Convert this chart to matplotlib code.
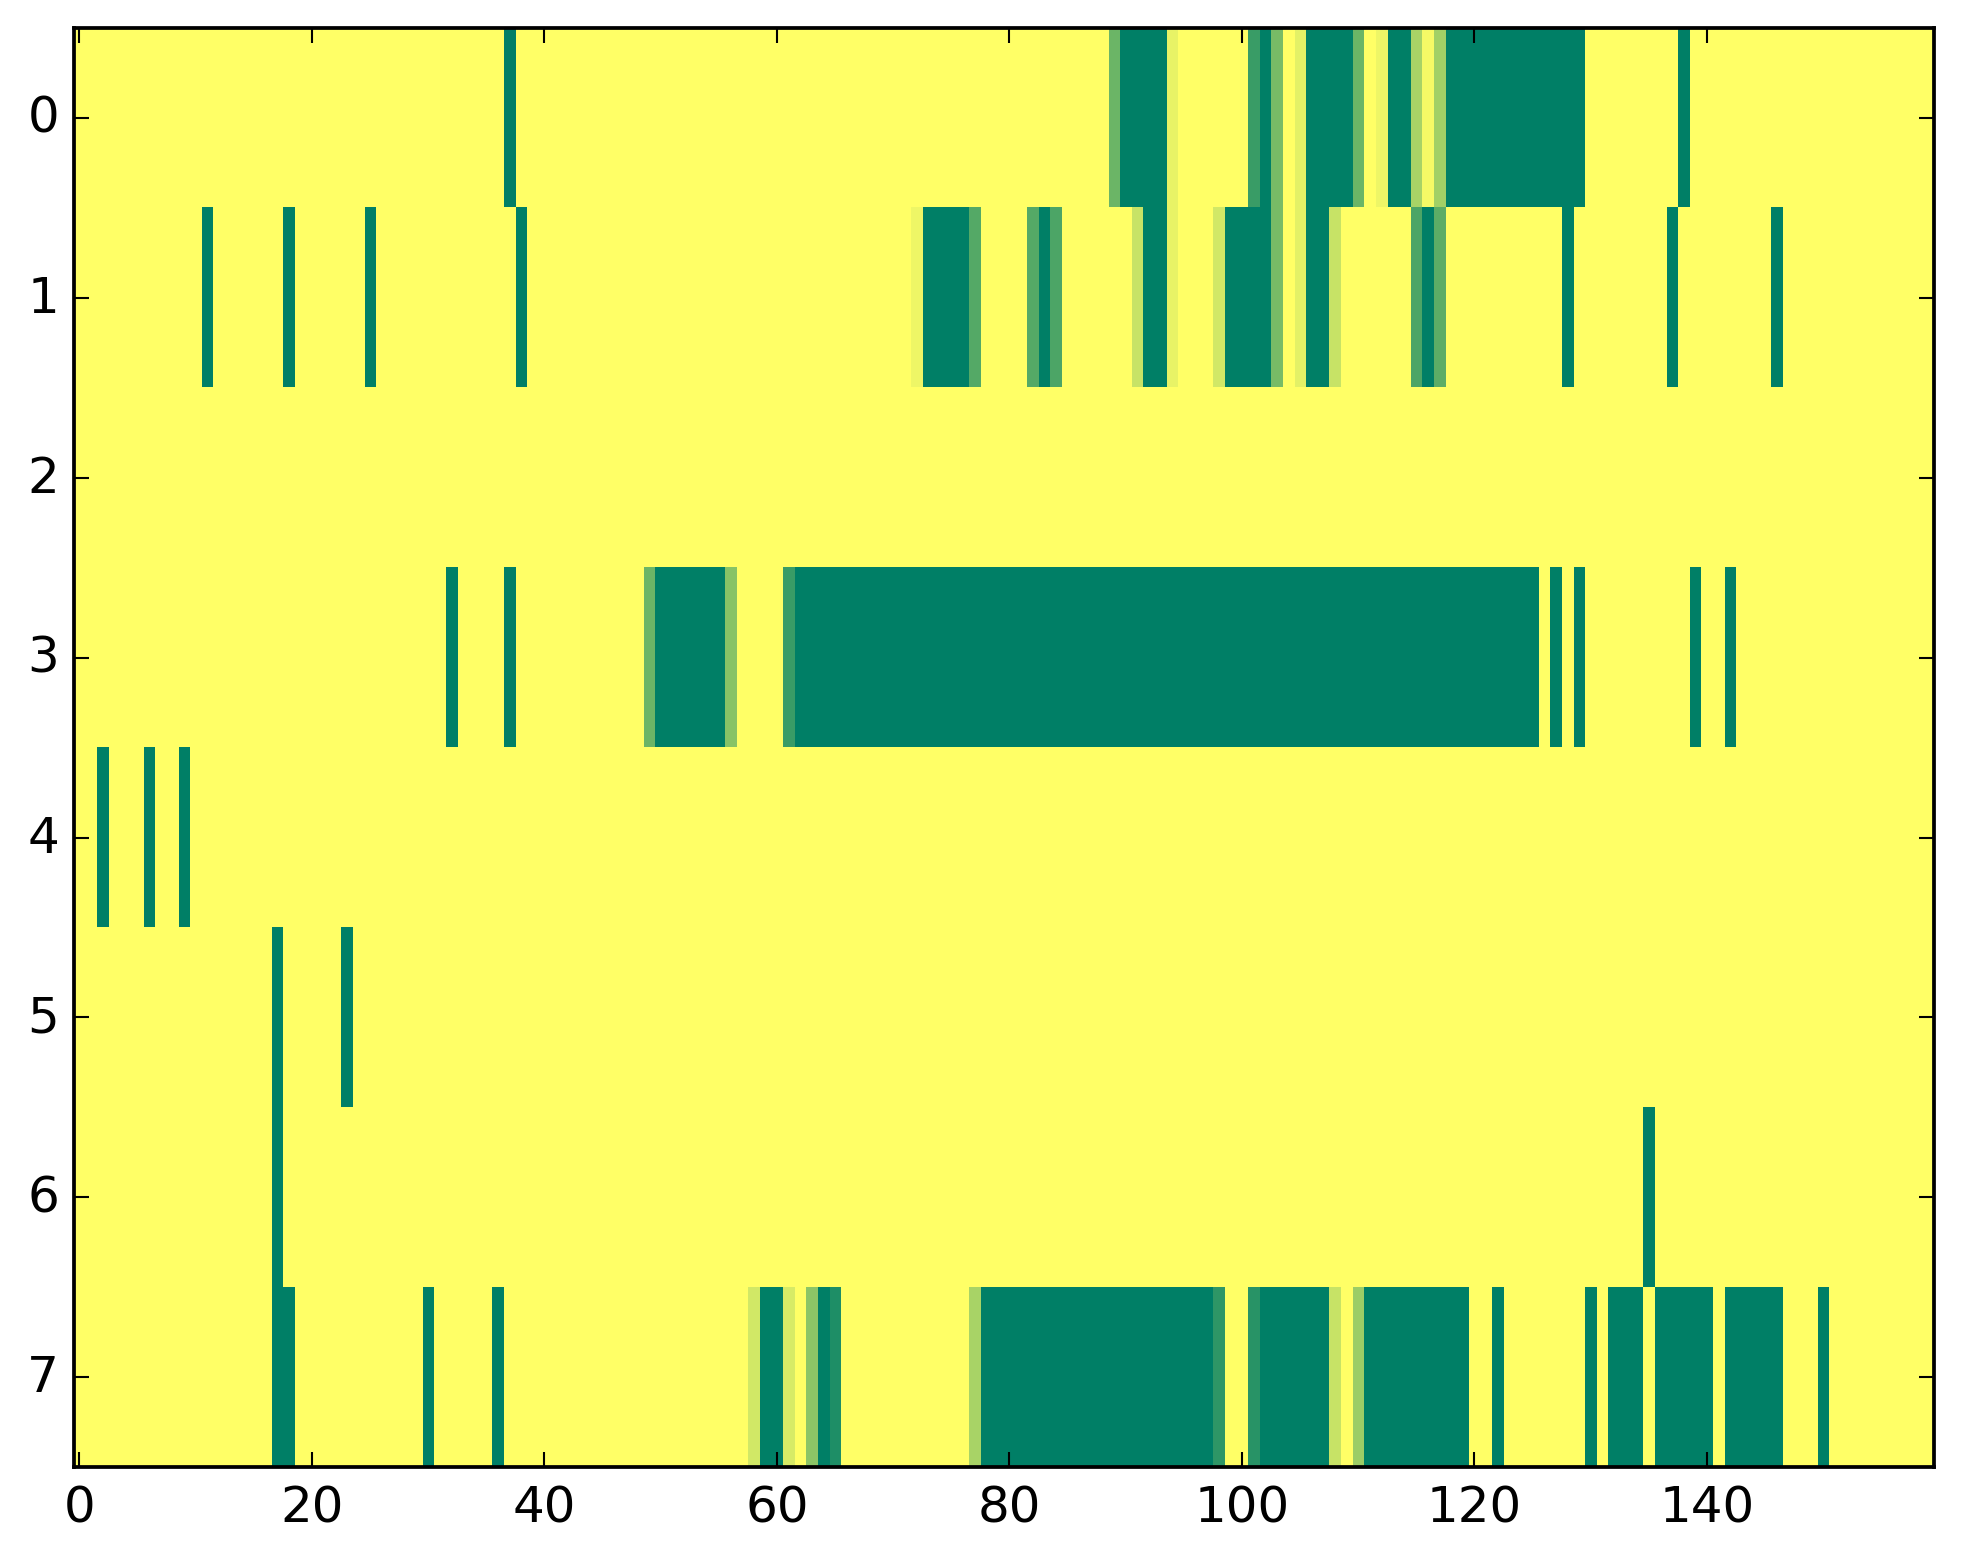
import numpy as np
import matplotlib
matplotlib.use("Agg")
import matplotlib.pyplot as plt

n_rows = 8
n_cols = 160

# runs of cells per row: (first column, last column, value); everything else is 0
row0 = [(37, 37, 1.0), (89, 89, 0.58), (90, 93, 1.0), (94, 94, 0.09),
        (101, 101, 0.77), (102, 102, 1.0), (103, 103, 0.53), (105, 105, 0.11),
        (106, 109, 1.0), (110, 110, 0.58), (112, 112, 0.07), (113, 114, 1.0),
        (115, 115, 0.34), (116, 116, 0.04), (117, 117, 0.37), (118, 129, 1.0),
        (138, 138, 1.0)]
row1 = [(11, 11, 1.0), (18, 18, 1.0), (25, 25, 1.0), (38, 38, 1.0),
        (72, 72, 0.07), (73, 76, 1.0), (77, 77, 0.67), (82, 82, 0.67),
        (83, 83, 1.0), (84, 84, 0.70), (91, 91, 0.22), (92, 93, 1.0),
        (94, 94, 0.09), (98, 98, 0.18), (99, 102, 1.0), (103, 103, 0.53),
        (105, 105, 0.11), (106, 107, 1.0), (108, 108, 0.22), (115, 115, 0.70),
        (116, 116, 1.0), (117, 117, 0.64), (128, 128, 1.0), (137, 137, 1.0),
        (146, 146, 1.0)]
row2 = []
row3 = [(32, 32, 1.0), (37, 37, 1.0), (49, 49, 0.58), (50, 55, 1.0),
        (56, 56, 0.47), (61, 61, 0.77), (62, 125, 1.0), (127, 127, 1.0),
        (129, 129, 1.0), (139, 139, 1.0), (142, 142, 1.0)]
row4 = [(2, 2, 1.0), (6, 6, 1.0), (9, 9, 1.0)]
row5 = [(17, 17, 1.0), (23, 23, 1.0)]
row6 = [(17, 17, 1.0), (135, 135, 1.0)]
row7 = [(17, 18, 1.0), (30, 30, 1.0), (36, 36, 1.0), (58, 58, 0.18),
        (59, 60, 1.0), (61, 61, 0.16), (63, 63, 0.45), (64, 64, 1.0),
        (65, 65, 0.88), (77, 77, 0.34), (78, 97, 1.0), (98, 98, 0.82),
        (101, 101, 0.84), (102, 107, 1.0), (108, 108, 0.22), (110, 110, 0.39),
        (111, 119, 1.0), (122, 122, 1.0), (130, 130, 1.0), (132, 134, 1.0),
        (136, 140, 1.0), (142, 146, 1.0), (150, 150, 1.0)]

rows = [row0, row1, row2, row3, row4, row5, row6, row7]

grid = np.zeros((n_rows, n_cols))
for r, runs in enumerate(rows):
    for first, last, val in runs:
        grid[r, first:last + 1] = val

plt.style.use('classic')
fig = plt.figure(figsize=(1963 / 300, 1564 / 300), dpi=300)
ax = fig.add_axes([0.0375, 0.0612, 0.985 - 0.0375, 0.9815 - 0.0612])
ax.imshow(grid, cmap='summer_r', vmin=0, vmax=1, aspect='auto',
          interpolation='nearest')
ax.set_xticks([0, 20, 40, 60, 80, 100, 120, 140])
ax.set_yticks(range(n_rows))
for s in ax.spines.values():
    s.set_linewidth(0.9)
ax.tick_params(labelsize=12, length=3.6, width=0.5)
ax.tick_params(axis='y', pad=3.5)
fig.savefig('out.png', dpi=300)
